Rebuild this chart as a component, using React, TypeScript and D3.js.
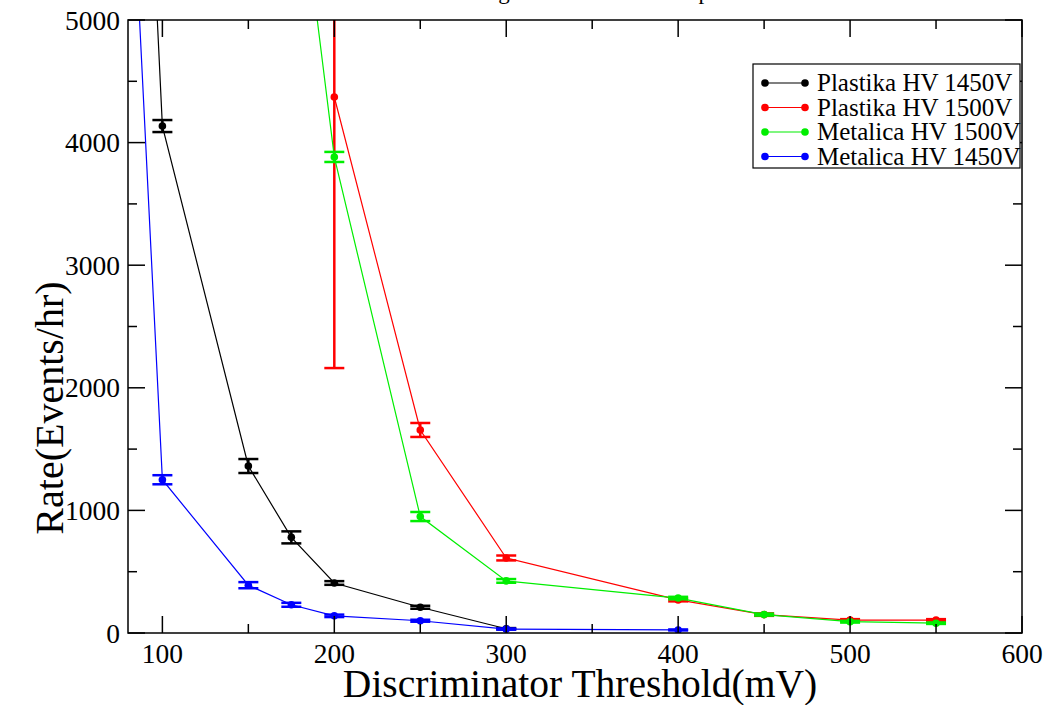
import React from "react";
import * as d3 from "d3";

const plastika1450X = [80, 100, 150, 175, 200, 250, 300];
const plastika1450Y = [10000, 4135, 1362, 780, 408, 210, 35];
const plastika1450E = [0, 49, 57, 49, 15, 12, 5];

const plastika1500X = [200, 250, 300, 400, 450, 500, 550];
const plastika1500Y = [4372, 1656, 612, 270, 150, 105, 105];
const plastika1500E = [2211, 57, 20, 12, 10, 8, 8];

const metalica1500X = [175, 200, 250, 300, 400, 450, 500, 550];
const metalica1500Y = [6700, 3883, 950, 425, 285, 150, 92, 80];
const metalica1500E = [0, 41, 37, 15, 10, 8, 7, 6];

const metalica1450X = [80, 100, 150, 175, 200, 250, 300, 400];
const metalica1450Y = [6900, 1250, 390, 230, 140, 100, 32, 25];
const metalica1450E = [0, 37, 25, 16, 10, 8, 5, 4];

const seriesNames = ["Plastika HV 1450V", "Plastika HV 1500V", "Metalica HV 1500V", "Metalica HV 1450V"];
const seriesColors = ["#000000", "#ff0000", "#00ee00", "#0000ff"];

const xMajorTicks = [100, 200, 300, 400, 500, 600];
const yMajorTicks = [0, 1000, 2000, 3000, 4000, 5000];

const titleText = "Rate against Threshold Setup";
const xTitle = "Discriminator Threshold(mV)";
const yTitle = "Rate(Events/hr)";

const W = 1051, H = 705;
const L = 128, R = 1022, T = 20, B = 633;
const FONT = "Liberation Serif, DejaVu Serif, Times New Roman, serif";

export default function App() {
  const x = d3.scaleLinear().domain([80, 600]).range([L, R]);
  const y = d3.scaleLinear().domain([0, 5000]).range([B, T]);
  const line = d3.line<[number, number]>().x(d => x(d[0])).y(d => y(d[1]));

  const series = [
    { xs: plastika1450X, ys: plastika1450Y, es: plastika1450E },
    { xs: plastika1500X, ys: plastika1500Y, es: plastika1500E },
    { xs: metalica1500X, ys: metalica1500Y, es: metalica1500E },
    { xs: metalica1450X, ys: metalica1450Y, es: metalica1450E },
  ].map((s, i) => ({ ...s, name: seriesNames[i], color: seriesColors[i] }));

  const xMinor = d3.range(100, 600, 100).map(v => v + 50);
  const yMinor = d3.range(500, 5000, 1000);
  const capW = 10;
  const majorLen = 17, minorLen = 9;

  return (
    <svg width={W} height={H} style={{ position: "absolute", left: 0, top: 0, background: "#fff", fontFamily: FONT }}>
      <rect x={0} y={0} width={W} height={H} fill="#fff" />
      <defs>
        <clipPath id="plotclip">
          <rect x={L} y={T} width={R - L} height={B - T} />
        </clipPath>
      </defs>
      <text x={575} y={-1} fontSize={23} textAnchor="middle" fill="#000" style={{ fontFamily: FONT }}>{titleText}</text>

      <g clipPath="url(#plotclip)">
        {series.map((s, i) => (
          <g key={i}>
            <path d={line(s.xs.map((v, j) => [v, s.ys[j]] as [number, number])) || ""} fill="none" stroke={s.color} strokeWidth={1.2} />
            {s.xs.map((v, j) => {
              const e = s.es[j];
              if (!e) return null;
              const cx = x(v);
              const y1 = y(s.ys[j] + e), y2 = y(s.ys[j] - e);
              return (
                <g key={j} stroke={s.color} strokeWidth={2.5}>
                  <line x1={cx} x2={cx} y1={y1} y2={y2} />
                  <line x1={cx - capW} x2={cx + capW} y1={y1} y2={y1} />
                  <line x1={cx - capW} x2={cx + capW} y1={y2} y2={y2} />
                </g>
              );
            })}
            {s.xs.map((v, j) => (
              <circle key={"m" + j} cx={x(v)} cy={y(s.ys[j])} r={3.8} fill={s.color} />
            ))}
          </g>
        ))}
      </g>

      <rect x={L} y={T} width={R - L} height={B - T} fill="none" stroke="#000" strokeWidth={1.5} />

      <g stroke="#000" strokeWidth={1.5}>
        {xMajorTicks.map(v => (
          <g key={"xm" + v}>
            <line x1={x(v)} x2={x(v)} y1={B} y2={B - majorLen} />
            <line x1={x(v)} x2={x(v)} y1={T} y2={T + majorLen} />
          </g>
        ))}
        {xMinor.map(v => (
          <g key={"xn" + v}>
            <line x1={x(v)} x2={x(v)} y1={B} y2={B - minorLen} />
            <line x1={x(v)} x2={x(v)} y1={T} y2={T + minorLen} />
          </g>
        ))}
        {yMajorTicks.map(v => (
          <g key={"ym" + v}>
            <line x1={L} x2={L + majorLen} y1={y(v)} y2={y(v)} />
            <line x1={R} x2={R - majorLen} y1={y(v)} y2={y(v)} />
          </g>
        ))}
        {yMinor.map(v => (
          <g key={"yn" + v}>
            <line x1={L} x2={L + minorLen} y1={y(v)} y2={y(v)} />
            <line x1={R} x2={R - minorLen} y1={y(v)} y2={y(v)} />
          </g>
        ))}
      </g>

      <g fontSize={27.5} fill="#000" style={{ fontFamily: FONT }}>
        {xMajorTicks.map(v => (
          <text key={"xl" + v} x={x(v)} y={663} textAnchor="middle">{v}</text>
        ))}
        {yMajorTicks.map(v => (
          <text key={"yl" + v} x={120} y={y(v) + 9.5} textAnchor="end">{v}</text>
        ))}
      </g>

      <text x={580} y={697} fontSize={39.5} textAnchor="middle" fill="#000" style={{ fontFamily: FONT }}>{xTitle}</text>
      <text transform={`translate(63, 408) rotate(-90)`} fontSize={40} textAnchor="middle" fill="#000" style={{ fontFamily: FONT }}>{yTitle}</text>

      <g>
        <rect x={753} y={64} width={267} height={104} fill="#fff" stroke="#000" strokeWidth={1.2} />
        {series.map((s, i) => {
          const ry = 83 + i * 24.5;
          return (
            <g key={"lg" + i}>
              <line x1={765} x2={805} y1={ry} y2={ry} stroke={s.color} strokeWidth={1.2} />
              <circle cx={765} cy={ry} r={3.8} fill={s.color} />
              <circle cx={805} cy={ry} r={3.8} fill={s.color} />
              <text x={817} y={ry + 8} fontSize={25} fill="#000" style={{ fontFamily: FONT }}>{s.name}</text>
            </g>
          );
        })}
      </g>
    </svg>
  );
}
